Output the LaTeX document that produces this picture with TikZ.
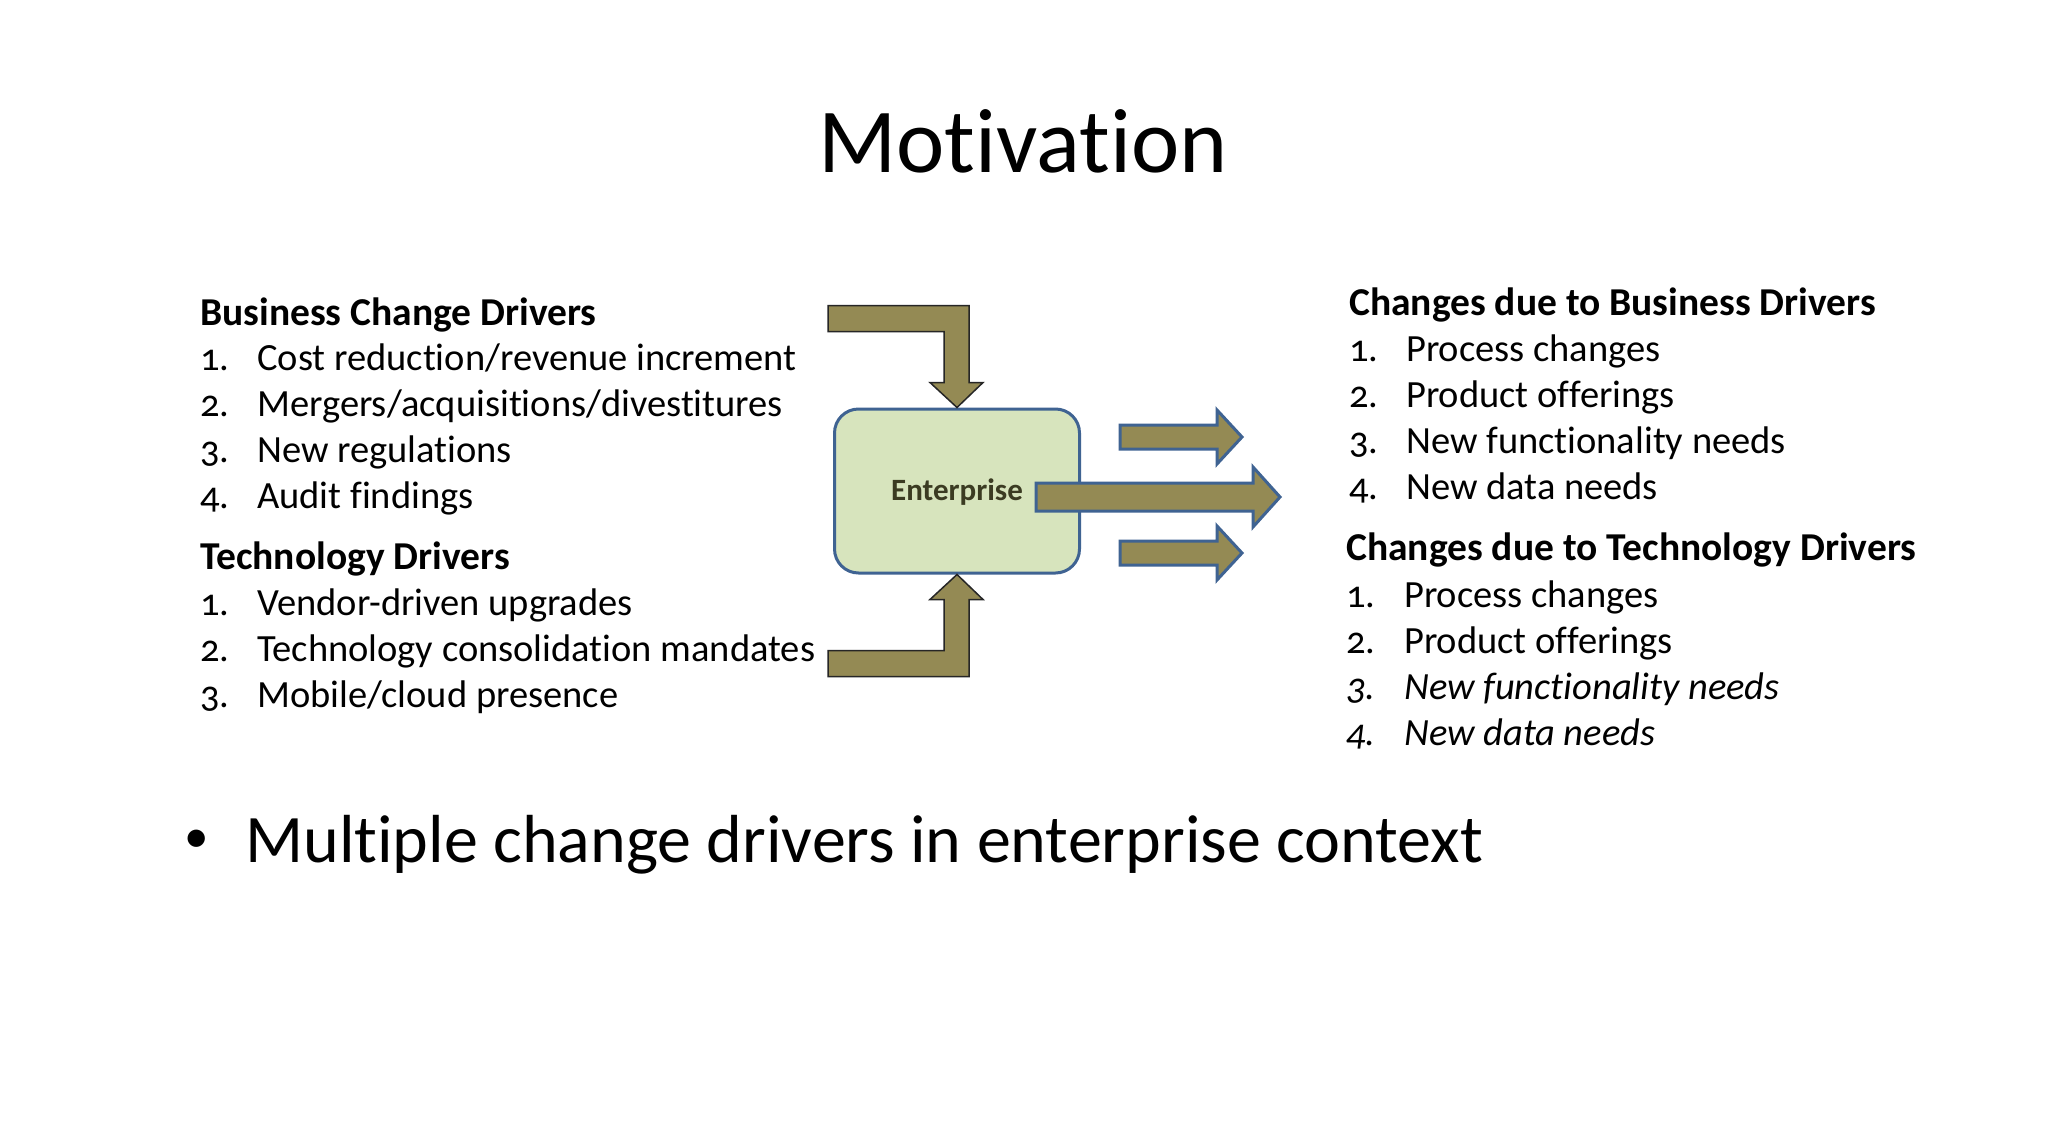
\documentclass[tikz,border=0pt]{standalone}
\usepackage{fontspec}
\setmainfont{Carlito}[Numbers=OldStyle, Ligatures=NoCommon]
\usetikzlibrary{positioning}

\definecolor{olivefill}{HTML}{948A54}
\definecolor{boxfill}{HTML}{D7E4BD}
\definecolor{boxline}{HTML}{3F6392}
\definecolor{enttext}{HTML}{3B3B22}

\tikzset{
  entbox/.style={draw=boxline, fill=boxfill, line width=3pt, rounded corners=24pt,
    minimum width=245pt, minimum height=164pt, font=\fontsize{31}{36}\selectfont\bfseries, text=enttext},
  elbowarrow/.style={draw=black!85, fill=olivefill, line width=1.5pt, line join=miter},
  outarrow/.style={draw=boxline, fill=olivefill, line width=3pt, line join=miter},
  listhead/.style={anchor=base west, inner sep=0pt, font=\fontsize{39.5}{46}\selectfont\bfseries},
  listitem/.style={anchor=base west, inner sep=0pt, font=\fontsize{38.5}{46}\selectfont},
}

\begin{document}
\begin{tikzpicture}[x=1pt,y=-1pt]
  \useasboundingbox[fill=white] (0,0) rectangle (2048,1146);

  \node[font=\fontsize{91.5}{100}\selectfont, anchor=base, inner sep=0pt] (title) at (1023,172) {Motivation};

  % enterprise box and the arrows into and out of it
  \node[entbox, text depth=2pt] (ent) at (957,491) {Enterprise};
  \draw[elbowarrow] (ent.north) -- ++(26,-25) -- ++(-14,0) -- ++(0,-77) -- ++(-141,0)
    -- ++(0,26) -- ++(116,0) -- ++(0,51) -- ++(-14,0) -- cycle;
  \draw[elbowarrow] (ent.south) -- ++(26,25) -- ++(-14,0) -- ++(0,77) -- ++(-141,0)
    -- ++(0,-26) -- ++(116,0) -- ++(0,-51) -- ++(-14,0) -- cycle;
  \foreach \xa/\xb/\xc/\yc/\hs/\hh in {1120/1217/1242/437/12/27, 1120/1217/1242/553/12/27, 1036/1253/1280/497/14/30}
    \draw[outarrow] (\xa,\yc-\hs) -- (\xb,\yc-\hs) -- (\xb,\yc-\hh) -- (\xc,\yc)
      -- (\xb,\yc+\hh) -- (\xb,\yc+\hs) -- (\xa,\yc+\hs) -- cycle;

  % drivers
  \node[listhead] (bcd) at (200,325) {Business Change Drivers};
  \foreach \txt [count=\i] in {{Cost reduction/revenue increment}, {Mergers/acquisitions/divestitures}, {New regulations}, {Audit findings}}{
    \node[listitem] (bcdn\i) at (200,{370+46.3*(\i-1)}) {\i.};
    \node[listitem] (bcd\i) at (257,{370+46.3*(\i-1)}) {\txt};
  }
  \node[listhead] (td) at (200,569) {Technology Drivers};
  \foreach \txt [count=\i] in {{Vendor-driven upgrades}, {Technology consolidation mandates}, {Mobile/cloud presence}}{
    \node[listitem] (tdn\i) at (200,{615+46*(\i-1)}) {\i.};
    \node[listitem] (td\i) at (257,{615+46*(\i-1)}) {\txt};
  }

  % changes
  \node[listhead] (cbd) at (1349,315) {Changes due to Business Drivers};
  \foreach \txt [count=\i] in {Process changes, Product offerings, New functionality needs, New data needs}{
    \node[listitem] (cbdn\i) at (1349,{361+46*(\i-1)}) {\i.};
    \node[listitem] (cbd\i) at (1406,{361+46*(\i-1)}) {\txt};
  }
  \node[listhead] (ctd) at (1346,560) {Changes due to Technology Drivers};
  \foreach \txt/\shp [count=\i] in {Process changes/\upshape, Product offerings/\upshape, New functionality needs/\itshape, New data needs/\itshape}{
    \node[listitem] (ctdn\i) at (1346,{607+46*(\i-1)}) {\shp\i.};
    \node[listitem] (ctd\i) at (1404,{607+46*(\i-1)}) {\shp\txt};
  }

  \node[font=\fontsize{49}{56}\selectfont, anchor=base, inner sep=0pt] (bul) at (197,852) {•};
  \node[font=\fontsize{68}{80}\selectfont, anchor=base west, inner sep=0pt] (concl) at (245,862) {Multiple change drivers in enterprise context};
\end{tikzpicture}
\end{document}
